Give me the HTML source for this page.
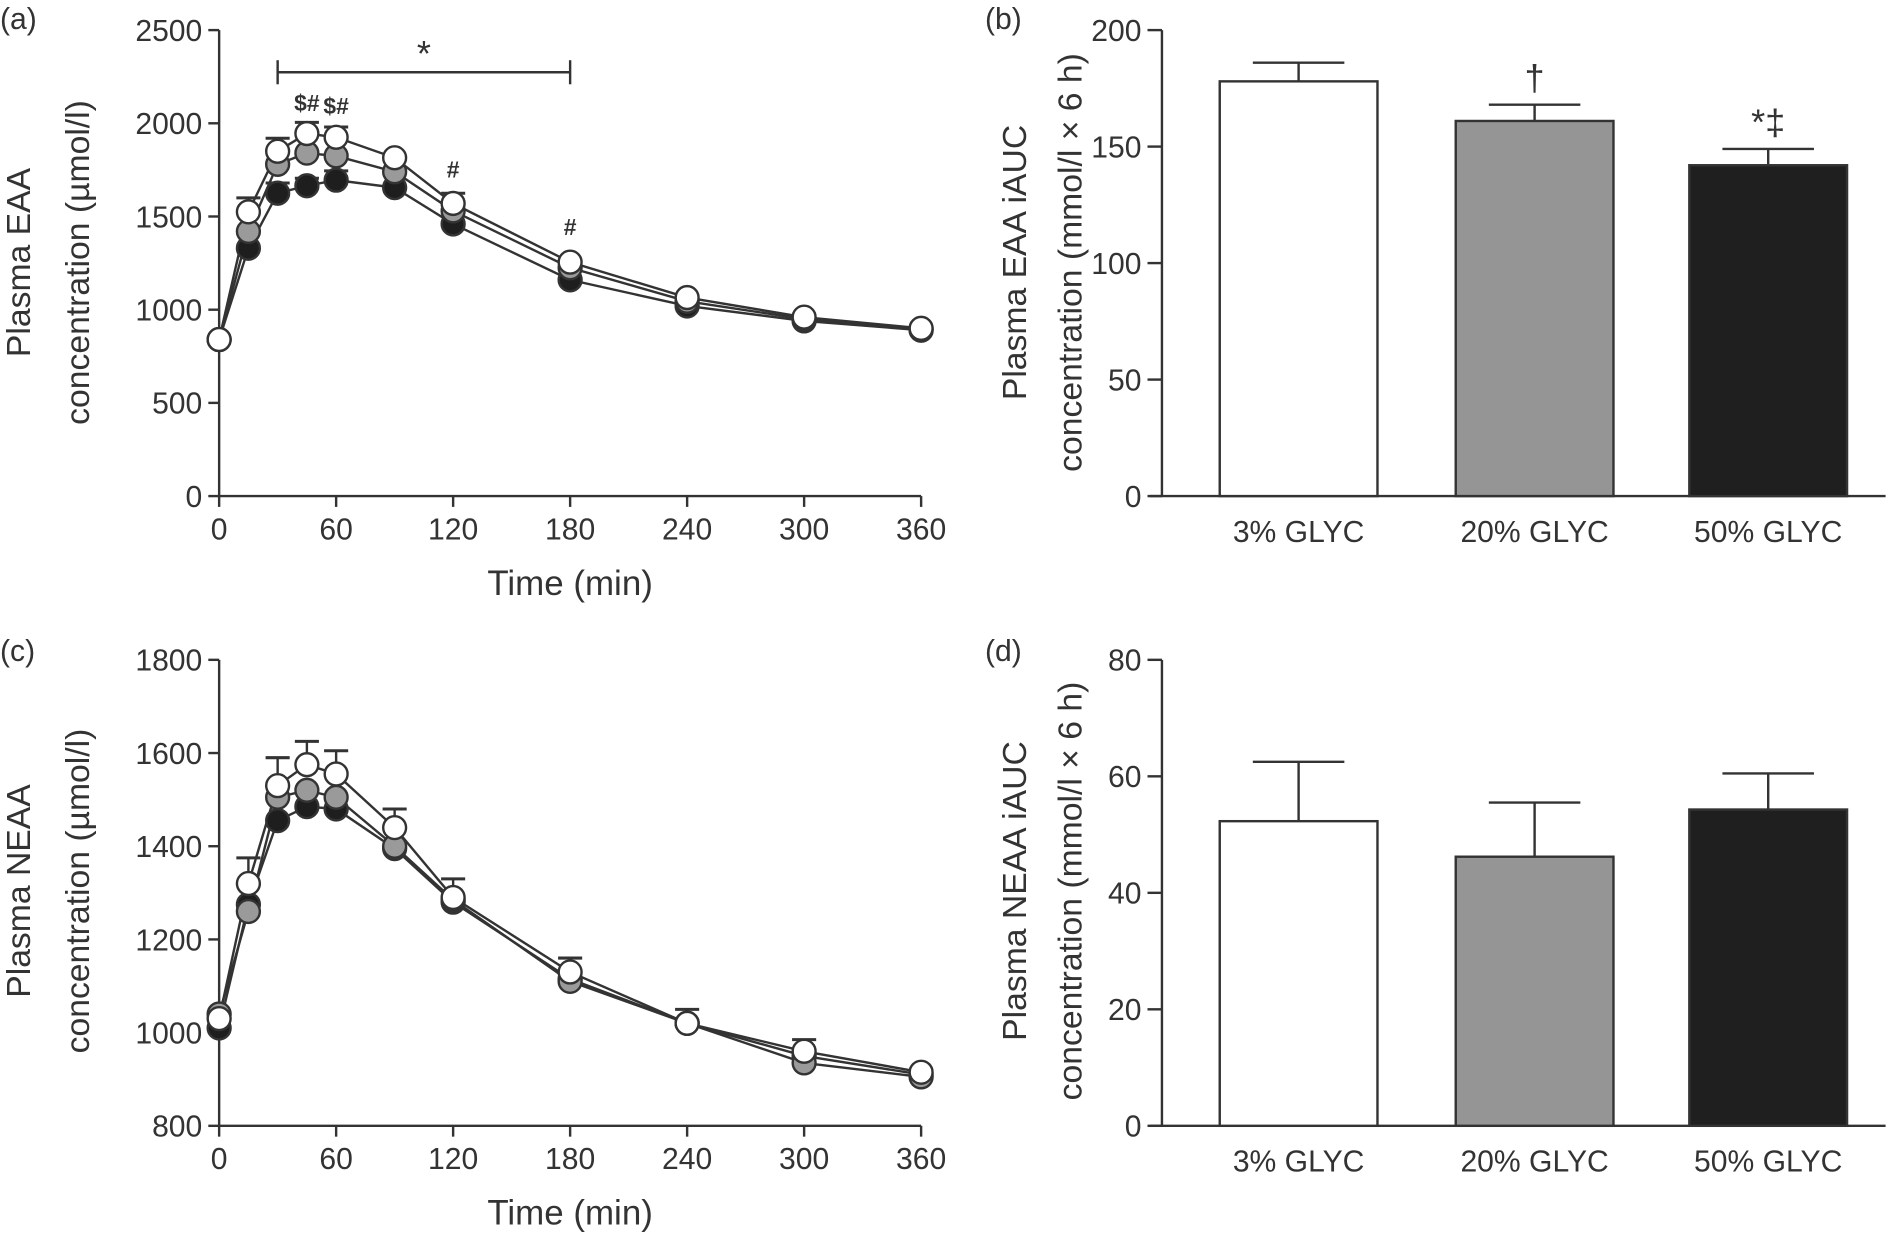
<!DOCTYPE html>
<html><head><meta charset="utf-8">
<style>
html,body{margin:0;padding:0;background:#fff;}
svg{display:block;font-family:"Liberation Sans Narrow","Liberation Sans",Arial,sans-serif;}
</style></head>
<body>
<svg id="fig" width="1888" height="1239" viewBox="0 0 1568 1029" xmlns="http://www.w3.org/2000/svg"></svg>
<script>
const times = [0,15,30,45,60,90,120,180,240,300,360];
const xTicks = [0,60,120,180,240,300,360];
const eaaWhite = [840,1525,1850,1945,1925,1815,1570,1255,1065,960,900];
const eaaGray  = [840,1420,1780,1840,1825,1740,1530,1225,1045,950,895];
const eaaBlack = [840,1330,1625,1665,1695,1655,1460,1160,1020,940,890];
const eaaWhiteErr = [0,75,70,60,55,0,55,0,0,0,0];
const eaaBlackErr = [0,0,55,40,50,0,0,0,0,0,0];
const eaaTicks = [0,500,1000,1500,2000,2500];
const neaaWhite = [1030,1320,1530,1575,1555,1440,1290,1130,1020,960,915];
const neaaGray  = [1040,1260,1505,1520,1505,1400,1285,1110,1020,935,905];
const neaaBlack = [1010,1275,1455,1485,1480,1395,1280,1115,1020,950,910];
const neaaWhiteErr = [0,55,60,50,50,40,40,30,30,25,0];
const neaaTicks = [800,1000,1200,1400,1600,1800];
const barCats = ["3% GLYC","20% GLYC","50% GLYC"];
const eaaAuc = [178,161,142];
const eaaAucErr = [8,7,7];
const eaaAucTicks = [0,50,100,150,200];
const eaaAucMarks = ["","†","*‡"];
const neaaAuc = [52.3,46.2,54.3];
const neaaAucErr = [10.2,9.3,6.2];
const neaaAucTicks = [0,20,40,60,80];

const svg = document.getElementById('fig');
const NS = 'http://www.w3.org/2000/svg';
function el(tag, attrs, text){
  const e = document.createElementNS(NS, tag);
  for (const k in attrs) e.setAttribute(k, attrs[k]);
  if (text !== undefined) e.textContent = text;
  svg.appendChild(e);
  return e;
}
const C = '#333';

function yLabel(x1, x2, yc, l1, l2){
  const a = el('text',{x:x1,y:yc,'font-size':28,fill:C,'text-anchor':'middle',transform:`rotate(-90 ${x1} ${yc})`},l1);
  
  
  const b = el('text',{x:x2,y:yc,'font-size':28,fill:C,'text-anchor':'middle',transform:`rotate(-90 ${x2} ${yc})`},l2);
  
  
}

function linePanel(o){
  const X = t => o.x0 + (t - 0) / 360 * (o.x1 - o.x0);
  const Y = v => o.y0 + (v - o.vmin) / (o.vmax - o.vmin) * (o.y1 - o.y0);
  let ax = el('line',{x1:o.x0,y1:o.y0,x2:o.x0,y2:o.y1,stroke:C,'stroke-width':2});
   
  ax = el('line',{x1:o.x0,y1:o.y0,x2:o.x1,y2:o.y0,stroke:C,'stroke-width':2});
   
  o.yt.forEach(v=>{
    el('line',{x1:o.x0-9,y1:Y(v),x2:o.x0,y2:Y(v),stroke:C,'stroke-width':2});
    const t = el('text',{x:o.x0-14,y:Y(v)+9,'font-size':25,fill:C,'text-anchor':'end'},v);
     
  });
  xTicks.forEach(v=>{
    el('line',{x1:X(v),y1:o.y0,x2:X(v),y2:o.y0+9,stroke:C,'stroke-width':2});
    const t = el('text',{x:X(v),y:o.y0+36,'font-size':25,fill:C,'text-anchor':'middle'},v);
     
  });
  const xt = el('text',{x:X(180),y:o.y0+82,'font-size':29,fill:C,'text-anchor':'middle'},'Time (min)');
   
  const series = [[o.black,'#1e1e1e',o.blackErr,'black-series'],[o.gray,'#9a9a9a',null,'gray-series'],[o.white,'#ffffff',o.whiteErr,'white-series']];
  series.forEach(([d,f,err])=>{
    if(!err) return;
    d.forEach((v,i)=>{ if(err[i]>0){
      el('line',{x1:X(times[i]),y1:Y(v),x2:X(times[i]),y2:Y(v+err[i]),stroke:C,'stroke-width':2});
      el('line',{x1:X(times[i])-10,y1:Y(v+err[i]),x2:X(times[i])+10,y2:Y(v+err[i]),stroke:C,'stroke-width':2.5});
    }});
  });
  series.forEach(([d,f,err,name])=>{
    const p = el('polyline',{points:d.map((v,i)=>X(times[i])+','+Y(v)).join(' '),fill:'none',stroke:C,'stroke-width':2});
     
  });
  series.forEach(([d,f,err,name])=>{
    d.forEach((v,i)=>{
      const c = el('circle',{cx:X(times[i]),cy:Y(v),r:9.5,fill:f,stroke:C,'stroke-width':2});
       
    });
  });
  return {X,Y};
}

function barPanel(o){
  const Y = v => o.y0 + v / o.vmax * (o.y1 - o.y0);
  let ax = el('line',{x1:o.x0,y1:o.y0,x2:o.x0,y2:o.y1,stroke:C,'stroke-width':2});
   
  ax = el('line',{x1:o.x0-10,y1:o.y0,x2:1566,y2:o.y0,stroke:C,'stroke-width':2});
   
  o.yt.forEach(v=>{
    el('line',{x1:o.x0-12,y1:Y(v),x2:o.x0,y2:Y(v),stroke:C,'stroke-width':2});
    const t = el('text',{x:o.x0-17,y:Y(v)+9,'font-size':25,fill:C,'text-anchor':'end'},v);
     
  });
  const fills=['#ffffff','#959595','#1f1f1f'];
  const left=[1013,1209,1403], w=131;
  o.vals.forEach((v,i)=>{
    const cx = left[i]+w/2, top=Y(v+o.err[i]);
    el('line',{x1:cx,y1:Y(v),x2:cx,y2:top,stroke:C,'stroke-width':2});
    el('line',{x1:cx-38,y1:top,x2:cx+38,y2:top,stroke:C,'stroke-width':2});
    const r = el('rect',{x:left[i],y:Y(v),width:w,height:o.y0-Y(v),fill:fills[i],stroke:C,'stroke-width':2});
     
    const t = el('text',{x:cx,y:o.y0+38,'font-size':25,fill:C,'text-anchor':'middle'},barCats[i]);
     
    if(o.marks && o.marks[i]){
      const m = el('text',{x:cx,y:top-12,'font-size':30,fill:C,'text-anchor':'middle'},o.marks[i]);
       
    }
  });
}

[['(a)',0,24],['(b)',818,24],['(c)',0,549],['(d)',818,549]].forEach(([s,x,y])=>{
  const t = el('text',{x:x,y:y,'font-size':25,fill:C},s);
   
});

const pa = linePanel({x0:182,x1:765,y0:412,y1:25,vmin:0,vmax:2500,yt:eaaTicks,white:eaaWhite,gray:eaaGray,black:eaaBlack,whiteErr:eaaWhiteErr,blackErr:eaaBlackErr});
yLabel(25,74,218,'Plasma EAA','concentration (µmol/l)');
el('line',{x1:pa.X(30),y1:60,x2:pa.X(180),y2:60,stroke:C,'stroke-width':2});
el('line',{x1:pa.X(30),y1:50,x2:pa.X(30),y2:70,stroke:C,'stroke-width':2});
el('line',{x1:pa.X(180),y1:50,x2:pa.X(180),y2:70,stroke:C,'stroke-width':2});
let s = el('text',{x:pa.X(105),y:55,'font-size':30,fill:C,'text-anchor':'middle'},'*');
 
[[45,2065,'$#'],[60,2050,'$#'],[120,1710,'#'],[180,1400,'#']].forEach(([t,v,txt])=>{
  const m = el('text',{x:pa.X(t),y:pa.Y(v),'font-size':19,'font-weight':'bold',fill:C,'text-anchor':'middle'},txt);
   
});

barPanel({x0:965,y0:412,y1:25,vmax:200,yt:eaaAucTicks,vals:eaaAuc,err:eaaAucErr,marks:eaaAucMarks});
yLabel(852,898,218,'Plasma EAA iAUC','concentration (mmol/l × 6 h)');

linePanel({x0:182,x1:765,y0:935,y1:548,vmin:800,vmax:1800,yt:neaaTicks,white:neaaWhite,gray:neaaGray,black:neaaBlack,whiteErr:neaaWhiteErr,blackErr:null});
yLabel(25,74,740,'Plasma NEAA','concentration (µmol/l)');

barPanel({x0:965,y0:935,y1:548,vmax:80,yt:neaaAucTicks,vals:neaaAuc,err:neaaAucErr,marks:null});
yLabel(852,898,740,'Plasma NEAA iAUC','concentration (mmol/l × 6 h)');
</script>
</body></html>
